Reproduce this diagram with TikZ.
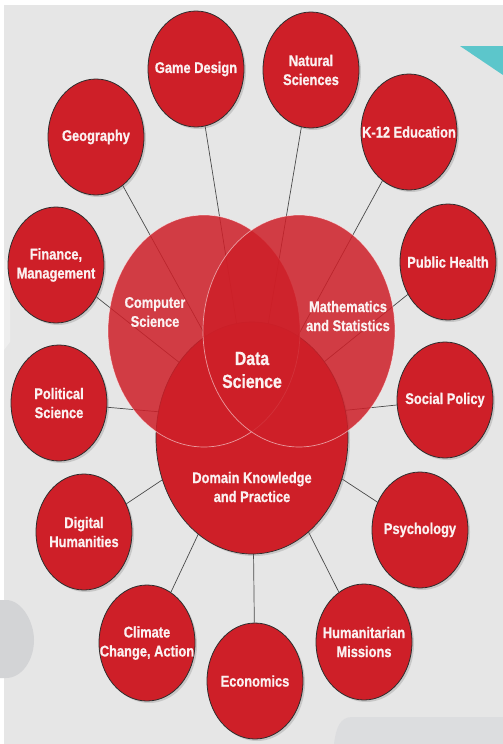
\documentclass[tikz,border=0pt]{standalone}
\usepackage{fontspec}
\setmainfont[FakeStretch=0.83,BoldFeatures={FakeBold=0.8}]{Liberation Sans}
\usepackage{tikz}
\usetikzlibrary{shapes.geometric,shadows,positioning}
\definecolor{dsRed}{HTML}{CE1F28}
\definecolor{dsBack}{HTML}{E6E6E6}
\definecolor{dsEdge}{HTML}{2E2E2E}
\definecolor{dsLine}{HTML}{4A4A4A}
\definecolor{dsTeal}{HTML}{5CC6CB}
\definecolor{dsBlob}{HTML}{D3D4D6}
\definecolor{dsPanel}{HTML}{DCDDDF}
\definecolor{dsLight}{HTML}{EEEEEE}
\definecolor{dsText}{HTML}{FBF1F1}
\tikzset{
  field/.style={ellipse,draw=dsEdge,line width=0.8pt,fill=dsRed,
    minimum width=96pt,minimum height=116pt,inner sep=0pt,
    drop shadow={shadow xshift=2pt,shadow yshift=-2pt,opacity=0.3}},
  fieldtext/.style={text=dsText,align=center,
    font=\bfseries\fontsize{15.5pt}{19pt}\selectfont},
  domainbase/.style={ellipse,draw=dsEdge,line width=0.7pt,fill=dsRed,
    minimum width=192pt,minimum height=232pt,inner sep=0pt,
    drop shadow={shadow xshift=2pt,shadow yshift=-2pt,opacity=0.3}},
  venn/.style={ellipse,fill=dsRed,fill opacity=0.85,draw=white,draw opacity=0.55,
    line width=0.7pt,minimum width=192pt,minimum height=232pt,inner sep=0pt},
  venntext/.style={text=dsText,align=center,
    font=\bfseries\fontsize{15.5pt}{19pt}\selectfont},
  coretext/.style={text=dsText,align=center,
    font=\bfseries\fontsize{19pt}{23pt}\selectfont},
  link/.style={draw=dsLine,line width=0.7pt}
}
\begin{document}
\begin{tikzpicture}[x=1pt,y=-1pt]
\useasboundingbox (0,0) rectangle (503,744);
\fill[white] (0,0) rectangle (503,744);
\fill[dsBack] (4,5) rectangle (503,744);
\fill[dsTeal] (460,46) -- (503,46) -- (503,75) -- cycle;
\fill[dsLight] (4,258) -- (10,266) -- (10,342) -- (4,350) -- cycle;
\fill[dsBlob] (0,600) -- (6,600) .. controls (22,600) and (34,622) .. (34,640)
  .. controls (34,660) and (22,678) .. (6,678) -- (0,678) -- cycle;
\fill[dsPanel] (352,717) -- (503,717) -- (503,744) -- (334,744)
  .. controls (336,728) and (340,717) .. (352,717) -- cycle;

\node[field, label={[fieldtext]center:Game Design}] (game) at (196,69) {};
\node[field, label={[fieldtext]center:Natural\\Sciences}] (natural) at (311,70) {};
\node[field, label={[fieldtext]center:Geography}] (geo) at (96,137) {};
\node[field, label={[fieldtext]center:K-12 Education}] (school) at (409,132) {};
\node[field, label={[fieldtext]center:Finance,\\Management}] (finance) at (56,265) {};
\node[field, label={[fieldtext]center:Public Health}] (health) at (448,262) {};
\node[field, label={[fieldtext]center:Political\\Science}] (politics) at (59,403) {};
\node[field, label={[fieldtext]center:Social Policy}] (social) at (445,400) {};
\node[field, label={[fieldtext]center:Digital\\Humanities}] (digital) at (84,532) {};
\node[field, label={[fieldtext]center:Psychology}] (psych) at (420,530) {};
\node[field, label={[fieldtext]center:Climate\\Change, Action}] (climate) at (147,643) {};
\node[field, label={[fieldtext]center:Economics}] (econ) at (255,681) {};
\node[field, label={[fieldtext]center:Humanitarian\\Missions}] (human) at (364,642) {};
\coordinate (hub) at (252,420);

\draw[link] (game) -- (hub);
\draw[link] (natural) -- (hub);
\draw[link] (geo) -- (hub);
\draw[link] (school) -- (hub);
\draw[link] (finance) -- (hub);
\draw[link] (health) -- (hub);
\draw[link] (politics) -- (hub);
\draw[link] (social) -- (hub);
\draw[link] (digital) -- (hub);
\draw[link] (psych) -- (hub);
\draw[link] (climate) -- (hub);
\draw[link] (econ) -- (hub);
\draw[link] (human) -- (hub);

\node[domainbase] (domain) at (252,438) {};
\node[venn] (cs) at (204,331) {};
\node[venn] (math) at (299,331) {};
\node[venntext] (cstext) at (155,312) {Computer\\Science};
\node[venntext] (mathtext) at (348,316) {Mathematics\\and Statistics};
\node[venntext] (domaintext) at (252,487) {Domain Knowledge\\and Practice};
\node[coretext] (core) at (252,370) {Data\\Science};
\end{tikzpicture}
\end{document}
